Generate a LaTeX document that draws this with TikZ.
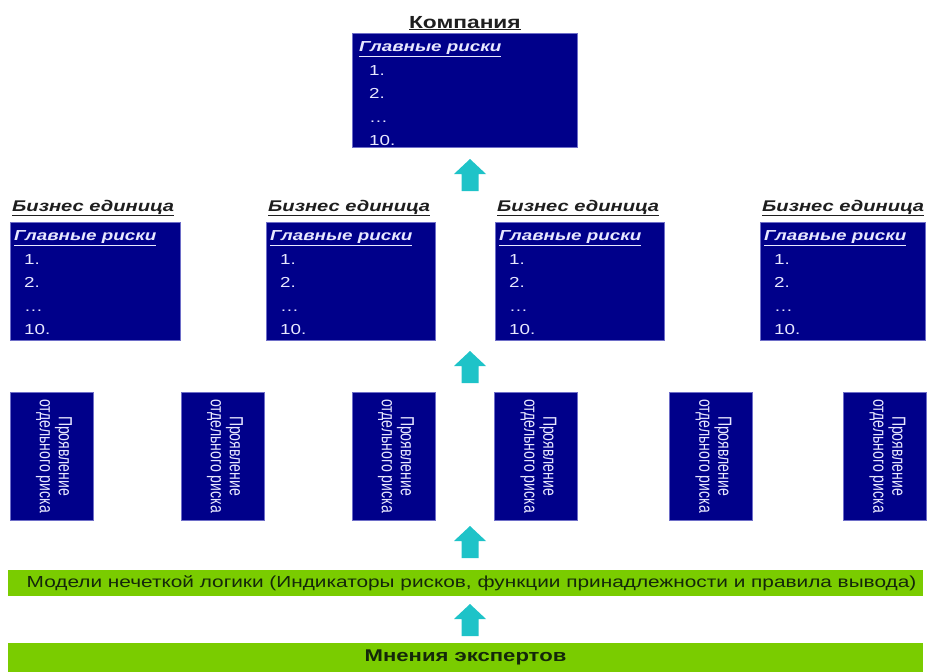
\documentclass[tikz,border=0pt]{standalone}
\usepackage{fontspec}
\setmainfont{Liberation Sans}
\newfontfamily\wide[FakeStretch=1.3]{Liberation Sans}
\newfontfamily\narrow[FakeStretch=0.74]{Liberation Sans}
\definecolor{navy}{RGB}{0,0,138}
\definecolor{edge}{RGB}{110,110,200}
\definecolor{lgreen}{RGB}{122,204,0}
\definecolor{turq}{RGB}{30,195,200}
\definecolor{pale}{RGB}{232,232,255}
\definecolor{titlecol}{RGB}{30,30,30}
\definecolor{bartext}{RGB}{20,40,10}
\begin{document}
\begin{tikzpicture}[x=1pt,y=-1pt,
  navybox/.style={fill=navy, draw=edge, line width=0.8pt, anchor=north west, inner sep=0pt},
  listtext/.style={anchor=north west, inner sep=0pt, align=left, text=pale,
    font=\wide\fontsize{14.5}{23.5}\selectfont},
  unittitle/.style={anchor=base west, inner sep=0pt, text=titlecol,
    font=\wide\bfseries\itshape\fontsize{15.5}{18}\selectfont},
  comptitle/.style={anchor=base, inner sep=0pt, text=titlecol,
    font=\wide\bfseries\fontsize{17.5}{20}\selectfont},
  vbox/.style={fill=navy, draw=edge, line width=0.8pt, rotate=-90,
    minimum width=128pt, minimum height=83pt, inner sep=0pt, align=center,
    text=pale, font=\narrow\fontsize{19}{19}\selectfont},
  gbar/.style={fill=lgreen, minimum width=915pt, inner sep=0pt, text=bartext},
  arrowfill/.style={fill=turq}
]
\useasboundingbox (0,0) rectangle (927,672);

\newcommand{\risklist}{\underline{\textbf{\textit{Главные риски}}}\\
  \hspace*{10pt}1.\\ \hspace*{10pt}2.\\ \hspace*{10pt}\ldots\\ \hspace*{10pt}10.}

% company
\node[navybox, minimum width=225pt, minimum height=114pt] (comp) at (352,33) {};
\node[comptitle] (compt) at ([yshift=5pt]comp.north) {\underline{Компания}};
\node[listtext] (compl) at ([xshift=7pt,yshift=-8.5pt]comp.north west) {\risklist};

% business units
\foreach \n/\x/\w in {1/10/170, 2/266/169, 3/495/169, 4/760/165}{
  \node[navybox, minimum width=\w pt, minimum height=118pt] (bu\n) at (\x,222) {};
  \node[unittitle] (but\n) at ([xshift=2pt,yshift=11pt]bu\n.north west) {\underline{Бизнес единица}};
  \node[listtext] (bul\n) at ([xshift=4pt,yshift=-8.5pt]bu\n.north west) {\risklist};
}

% individual risk boxes
\foreach \n/\x in {1/51.5, 2/222.5, 3/393.5, 4/536, 5/711, 6/885}{
  \node[vbox] (v\n) at (\x,456) {Проявление\\отдельного риска\rule[-9pt]{0pt}{0pt}};
}

% green bars
\node[gbar, minimum height=26pt, font=\wide\fontsize{16}{18}\selectfont] (fuzzy) at (465.5,583)
  {\hspace*{12pt}Модели нечеткой логики (Индикаторы рисков, функции принадлежности и правила вывода)};
\node[gbar, minimum height=29pt, font=\wide\bfseries\fontsize{17}{20}\selectfont] (experts) at (465.5,657.5)
  {Мнения экспертов};

% arrows
\foreach \n/\y in {1/175, 2/367, 3/542, 4/620}{
  \coordinate (a\n) at (470,\y);
  \fill[arrowfill] (a\n) ++(-8.5,16) -- ++(0,-17) -- ++(-7.5,0) -- ++(16,-15)
    -- ++(16,15) -- ++(-7.5,0) -- ++(0,17) -- cycle;
}
\end{tikzpicture}
\end{document}
